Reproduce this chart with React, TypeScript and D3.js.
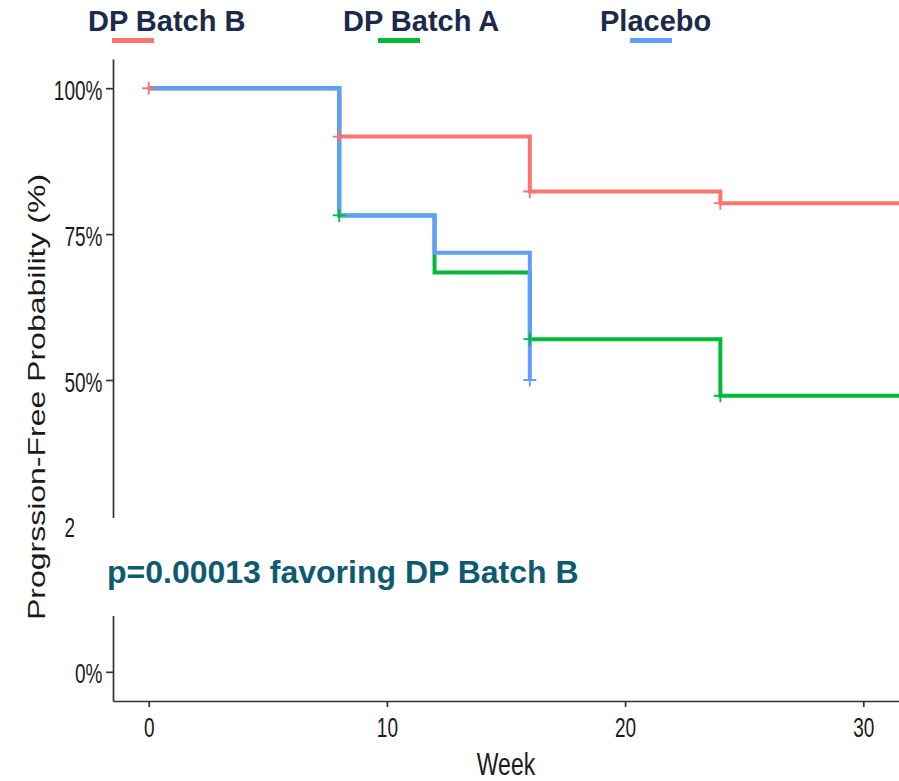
import React, { useRef, useEffect } from "react";
import * as d3 from "d3";

// axis ticks
const weekTicks = [0, 10, 20, 30];
const probTicks = [0, 25, 50, 75, 100];

// legend
const groupNames = ["DP Batch B", "DP Batch A", "Placebo"];
const groupColors = ["#F8766D", "#00BA38", "#619CFF"];

// step curves (week, % progression-free)
const batchBWeeks = [0, 8, 16, 24, 32];
const batchBSurv = [100, 91.7, 82.3, 80.3, 80.3];
const batchAWeeks = [0, 8, 12, 16, 24, 32];
const batchASurv = [100, 78.2, 68.4, 57.0, 47.3, 47.3];
const placeboWeeks = [0, 8, 12, 16];
const placeboSurv = [100, 78.2, 71.8, 50];

// censor marks
const batchBCensorWeeks = [0, 8, 16, 24];
const batchBCensorSurv = [100, 91.7, 82.3, 80.3];
const batchACensorWeeks = [8, 16, 24];
const batchACensorSurv = [78.2, 57.0, 47.3];
const placeboCensorWeeks = [16];
const placeboCensorSurv = [50];

const pValueText = "p=0.00013 favoring DP Batch B";

function KmChart() {
  const svgRef = useRef(null);

  useEffect(() => {
    const svg = d3.select(svgRef.current);
    svg.selectAll("*").remove();

    const font = "'Liberation Sans', Arial, sans-serif";
    const x = d3.scaleLinear().domain([-1.5, 31.5]).range([113, 899]);
    const y = d3.scaleLinear().domain([-5, 105]).range([701, 59]);

    svg.append("defs").append("clipPath").attr("id", "plotClip")
      .append("rect").attr("x", 113).attr("y", 59).attr("width", 786).attr("height", 642);

    const curves = [
      { w: batchBWeeks, s: batchBSurv, cw: batchBCensorWeeks, cs: batchBCensorSurv, color: groupColors[0] },
      { w: batchAWeeks, s: batchASurv, cw: batchACensorWeeks, cs: batchACensorSurv, color: groupColors[1] },
      { w: placeboWeeks, s: placeboSurv, cw: placeboCensorWeeks, cs: placeboCensorSurv, color: groupColors[2] },
    ];

    const stepLine = d3.line<[number, number]>()
      .x(d => x(d[0]))
      .y(d => y(d[1]))
      .curve(d3.curveStepAfter);

    const plot = svg.append("g").attr("clip-path", "url(#plotClip)");

    curves.forEach(c => {
      const pts = c.w.map((w, i) => [w, c.s[i]] as [number, number]);
      plot.append("path")
        .attr("d", stepLine(pts))
        .attr("fill", "none")
        .attr("stroke", c.color)
        .attr("stroke-width", 4);
    });

    // censor "+" marks on top of all lines
    curves.forEach(c => {
      plot.selectAll(null)
        .data(c.cw.map((w, i) => [w, c.cs[i]]))
        .join("path")
        .attr("transform", d => `translate(${x(d[0])},${y(d[1])})`)
        .attr("d", "M-6.5,0H6.5M0,-6.5V6.5")
        .attr("stroke", c.color)
        .attr("stroke-width", 1.9);
    });

    // y axis
    const yAxis = svg.append("g")
      .attr("transform", "translate(113,0)")
      .call(d3.axisLeft(y).tickValues(probTicks).tickFormat(d => d + "%").tickSize(7).tickSizeOuter(0));
    yAxis.selectAll("text")
      .attr("x", null).attr("dy", null)
      .attr("transform", "translate(-10.5,11) scale(0.68,1)")
      .attr("font-size", 28).attr("font-family", font).attr("fill", "#1a1a1a");

    // x axis
    const xAxis = svg.append("g")
      .attr("transform", "translate(0,701)")
      .call(d3.axisBottom(x).tickValues(weekTicks).tickSize(6).tickSizeOuter(0));
    xAxis.selectAll("text")
      .attr("y", null).attr("dy", null)
      .attr("transform", "translate(0,36) scale(0.68,1)")
      .attr("font-size", 28).attr("font-family", font).attr("fill", "#1a1a1a");

    svg.selectAll(".domain, .tick line").attr("stroke", "#333").attr("stroke-width", 1.7);

    // axis titles
    svg.append("text")
      .attr("transform", "translate(506,775) scale(0.72,1)")
      .attr("text-anchor", "middle")
      .attr("font-family", font).attr("font-size", 32).attr("fill", "#1a1a1a")
      .text("Week");

    svg.append("text")
      .attr("transform", "translate(45,397) rotate(-90) scale(1,0.76)")
      .attr("text-anchor", "middle")
      .attr("font-family", font).attr("font-size", 32).attr("fill", "#1a1a1a")
      .text("Progrssion-Free Probability (%)");

    // white annotation box with p-value
    svg.append("rect")
      .attr("x", 74).attr("y", 518).attr("width", 530).attr("height", 98)
      .attr("fill", "#fff");
    svg.append("text")
      .attr("x", 107).attr("y", 583)
      .attr("font-family", font).attr("font-size", 32).attr("font-weight", "bold")
      .attr("fill", "#0E5A6F")
      .text(pValueText);

    // legend on top
    const legendX = [88, 343, 600];
    const legendLineX = [112, 378, 630];
    groupNames.forEach((name, i) => {
      svg.append("text")
        .attr("x", legendX[i]).attr("y", 31)
        .attr("font-family", font).attr("font-size", 29).attr("font-weight", "bold")
        .attr("fill", "#1B2A4A")
        .text(name);
      svg.append("rect")
        .attr("x", legendLineX[i]).attr("y", 38).attr("width", 42).attr("height", 5)
        .attr("fill", groupColors[i]);
    });
  }, []);

  return (
    <svg
      ref={svgRef}
      width={899}
      height={781}
      style={{ position: "absolute", left: 0, top: 0, background: "#fff" }}
    />
  );
}

export default function App() {
  return <KmChart />;
}
